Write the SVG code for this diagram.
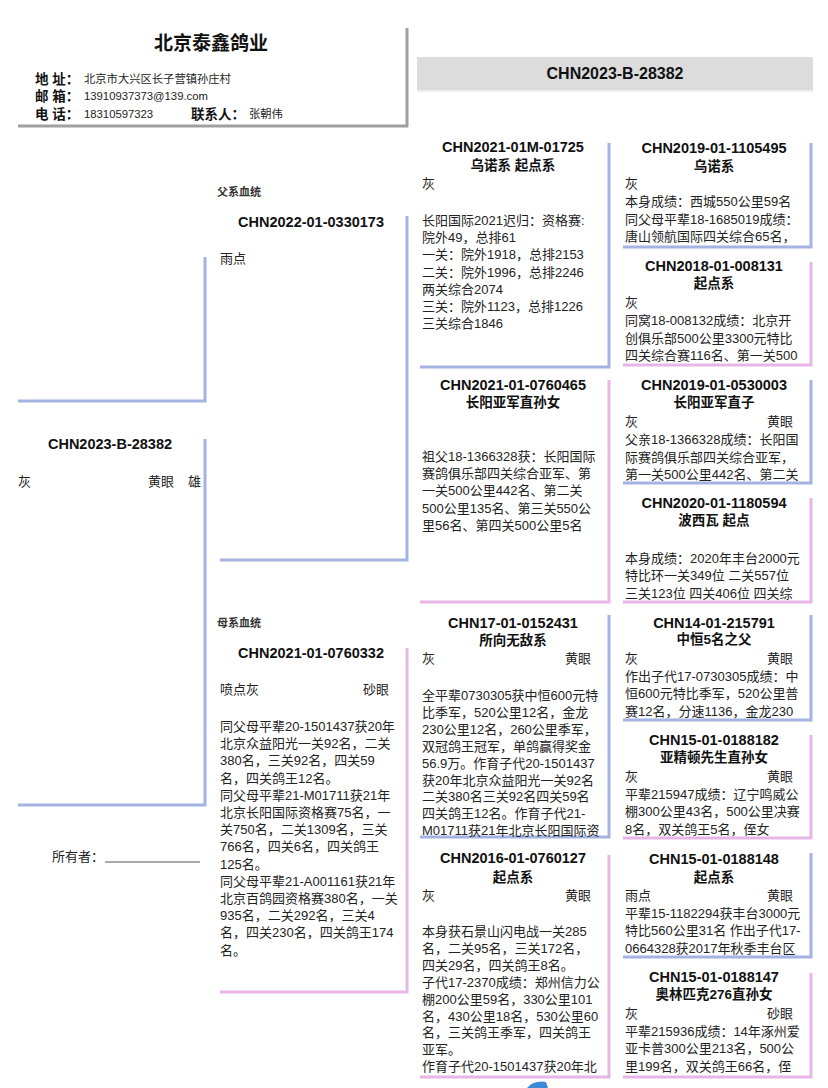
<svg xmlns="http://www.w3.org/2000/svg" width="828" height="1088" viewBox="0 0 828 1088">
<style>
text{font-family:'Liberation Sans','Noto Sans CJK SC',sans-serif;fill:#222}
.b{stroke:#a4b3e2;stroke-width:3;fill:none}
.p{stroke:#e8b6e6;stroke-width:3;fill:none}
.g{stroke:#a0a0a0;stroke-width:3;fill:none}
.h{font-weight:bold;font-size:14.5px;text-anchor:middle;fill:#111}
.s{font-weight:bold;font-size:13.5px;text-anchor:middle;fill:#111}
.t{font-size:13px}
.lb{font-weight:bold;font-size:13.5px;fill:#111}
.v{font-size:11.3px}
.sm{font-size:11px;font-weight:bold;fill:#333}
</style>
<rect x="0" y="0" width="828" height="1088" fill="#fff"/>

<g id="header">
  <path class="g" d="M407 28 V127 M18 126 H408"/>
  <text x="211" y="50" style="font-weight:bold;font-size:19px;text-anchor:middle;fill:#111">北京泰鑫鸽业</text>
  <text class="lb" x="35" y="84">地 址：</text>
  <text class="v" x="84" y="83">北京市大兴区长子营镇孙庄村</text>
  <text class="lb" x="35" y="101">邮 箱：</text>
  <text class="v" x="84" y="100">13910937373@139.com</text>
  <text class="lb" x="35" y="119">电 话：</text>
  <text class="v" x="84" y="118">18310597323</text>
  <text class="lb" x="191" y="119">联系人：</text>
  <text class="v" x="249" y="118">张朝伟</text>
</g>

<g id="banner">
  <rect x="417" y="57" width="396" height="33" fill="#dcdcdc"/>
  <line x1="417" y1="91" x2="813" y2="91" stroke="#eeeeee" stroke-width="2"/>
  <text x="615" y="79" style="font-weight:bold;font-size:16px;text-anchor:middle;fill:#111">CHN2023-B-28382</text>
</g>

<g id="connectors">
  <path class="b" d="M205 257 V401 H18"/>
</g>

<g id="subject">
  <path class="b" d="M205 439 V805 H18"/>
  <text class="h" x="110" y="449">CHN2023-B-28382</text>
  <text class="t" x="18" y="486">灰</text>
  <text class="t" x="148" y="486">黄眼</text>
  <text class="t" x="188" y="486">雄</text>
</g>

<g id="owner">
  <text class="t" x="52" y="861">所有者：</text>
  <line x1="105" y1="862" x2="200" y2="862" stroke="#555" stroke-width="1"/>
</g>

<g id="sire">
  <text class="sm" x="217" y="196">父系血统</text>
  <path class="b" d="M407 216 V560 H220"/>
  <text class="h" x="311" y="227">CHN2022-01-0330173</text>
  <text class="t" x="220" y="263">雨点</text>
</g>

<g id="dam">
  <text class="sm" x="217" y="627">母系血统</text>
  <path class="p" d="M407 648 V992 H220"/>
  <text class="h" x="311" y="658">CHN2021-01-0760332</text>
  <text class="t" x="220" y="694">喷点灰</text>
  <text class="t" x="363" y="694">砂眼</text>
  <text class="t" x="220" y="731">
    <tspan x="220">同父母平辈20-1501437获20年</tspan>
    <tspan x="220" dy="17.2">北京众益阳光一关92名，二关</tspan>
    <tspan x="220" dy="17.2">380名，三关92名，四关59</tspan>
    <tspan x="220" dy="17.2">名，四关鸽王12名。</tspan>
    <tspan x="220" dy="17.2">同父母平辈21-M01711获21年</tspan>
    <tspan x="220" dy="17.2">北京长阳国际资格赛75名，一</tspan>
    <tspan x="220" dy="17.2">关750名，二关1309名，三关</tspan>
    <tspan x="220" dy="17.2">766名，四关6名，四关鸽王</tspan>
    <tspan x="220" dy="17.2">125名。</tspan>
    <tspan x="220" dy="17.2">同父母平辈21-A001161获21年</tspan>
    <tspan x="220" dy="17.2">北京百鸽园资格赛380名，一关</tspan>
    <tspan x="220" dy="17.2">935名，二关292名，三关4</tspan>
    <tspan x="220" dy="17.2">名，四关230名，四关鸽王174</tspan>
    <tspan x="220" dy="17.2">名。</tspan>
  </text>
</g>

<g id="ss">
  <path class="b" d="M609 143 V367 H420"/>
  <text class="h" x="513" y="152">CHN2021-01M-01725</text>
  <text class="s" x="513" y="170">乌诺系 起点系</text>
  <text class="t" x="422" y="188">灰</text>
  <text class="t" x="422" y="225">
    <tspan x="422">长阳国际2021迟归：资格赛:</tspan>
    <tspan x="422" dy="17.2">院外49，总排61</tspan>
    <tspan x="422" dy="17.2">一关：院外1918，总排2153</tspan>
    <tspan x="422" dy="17.2">二关：院外1996，总排2246</tspan>
    <tspan x="422" dy="17.2">两关综合2074</tspan>
    <tspan x="422" dy="17.2">三关：院外1123，总排1226</tspan>
    <tspan x="422" dy="17.2">三关综合1846</tspan>
  </text>
</g>

<g id="sd">
  <path class="p" d="M609 380 V602 H420"/>
  <text class="h" x="513" y="390">CHN2021-01-0760465</text>
  <text class="s" x="513" y="407">长阳亚军直孙女</text>
  <text class="t" x="422" y="461">
    <tspan x="422">祖父18-1366328获：长阳国际</tspan>
    <tspan x="422" dy="17.2">赛鸽俱乐部四关综合亚军、第</tspan>
    <tspan x="422" dy="17.2">一关500公里442名、第二关</tspan>
    <tspan x="422" dy="17.2">500公里135名、第三关550公</tspan>
    <tspan x="422" dy="17.2">里56名、第四关500公里5名</tspan>
  </text>
</g>

<g id="ds">
  <path class="b" d="M609 615 V837 H420"/>
  <text class="h" x="513" y="628">CHN17-01-0152431</text>
  <text class="s" x="513" y="645">所向无敌系</text>
  <text class="t" x="422" y="663">灰</text>
  <text class="t" x="565" y="663">黄眼</text>
  <text class="t" x="422" y="700">
    <tspan x="422">全平辈0730305获中恒600元特</tspan>
    <tspan x="422" dy="16.9">比季军，520公里12名，金龙</tspan>
    <tspan x="422" dy="16.9">230公里12名，260公里季军，</tspan>
    <tspan x="422" dy="16.9">双冠鸽王冠军，单鸽赢得奖金</tspan>
    <tspan x="422" dy="16.9">56.9万。作育子代20-1501437</tspan>
    <tspan x="422" dy="16.9">获20年北京众益阳光一关92名</tspan>
    <tspan x="422" dy="16.9">二关380名三关92名四关59名</tspan>
    <tspan x="422" dy="16.9">四关鸽王12名。作育子代21-</tspan>
    <tspan x="422" dy="16.9">M01711获21年北京长阳国际资</tspan>
  </text>
</g>

<g id="dd">
  <path class="p" d="M609 855 V1077 H420"/>
  <text class="h" x="513" y="863">CHN2016-01-0760127</text>
  <text class="s" x="513" y="882">起点系</text>
  <text class="t" x="422" y="900">灰</text>
  <text class="t" x="565" y="900">黄眼</text>
  <text class="t" x="422" y="936">
    <tspan x="422">本身获石景山闪电战一关285</tspan>
    <tspan x="422" dy="16.9">名，二关95名，三关172名，</tspan>
    <tspan x="422" dy="16.9">四关29名，四关鸽王8名。</tspan>
    <tspan x="422" dy="16.9">子代17-2370成绩：郑州信力公</tspan>
    <tspan x="422" dy="16.9">棚200公里59名，330公里101</tspan>
    <tspan x="422" dy="16.9">名，430公里18名，530公里60</tspan>
    <tspan x="422" dy="16.9">名，三关鸽王季军，四关鸽王</tspan>
    <tspan x="422" dy="16.9">亚军。</tspan>
    <tspan x="422" dy="16.9">作育子代20-1501437获20年北</tspan>
  </text>
  <path d="M527 1088 Q534 1080 546 1082 L548 1088 Z" fill="#3a8ad8"/>
</g>

<g id="sss">
  <path class="b" d="M811 143 V247 H623"/>
  <text class="h" x="714" y="153">CHN2019-01-1105495</text>
  <text class="s" x="714" y="171">乌诺系</text>
  <text class="t" x="625" y="188">灰</text>
  <text class="t" x="625" y="206">
    <tspan x="625">本身成绩：西城550公里59名</tspan>
    <tspan x="625" dy="17.6">同父母平辈18-1685019成绩：</tspan>
    <tspan x="625" dy="17.6">唐山领航国际四关综合65名，</tspan>
  </text>
</g>

<g id="ssd">
  <path class="p" d="M811 262 V365 H623"/>
  <text class="h" x="714" y="271">CHN2018-01-008131</text>
  <text class="s" x="714" y="288">起点系</text>
  <text class="t" x="625" y="307">灰</text>
  <text class="t" x="625" y="325">
    <tspan x="625">同窝18-008132成绩：北京开</tspan>
    <tspan x="625" dy="17.6">创俱乐部500公里3300元特比</tspan>
    <tspan x="625" dy="17.6">四关综合赛116名、第一关500</tspan>
  </text>
</g>

<g id="sds">
  <path class="b" d="M811 380 V483 H623"/>
  <text class="h" x="714" y="390">CHN2019-01-0530003</text>
  <text class="s" x="714" y="407">长阳亚军直子</text>
  <text class="t" x="625" y="426">灰</text>
  <text class="t" x="767" y="426">黄眼</text>
  <text class="t" x="625" y="444">
    <tspan x="625">父亲18-1366328成绩：长阳国</tspan>
    <tspan x="625" dy="17.6">际赛鸽俱乐部四关综合亚军，</tspan>
    <tspan x="625" dy="17.6">第一关500公里442名、第二关</tspan>
  </text>
</g>

<g id="sdd">
  <path class="p" d="M811 498 V602 H623"/>
  <text class="h" x="714" y="508">CHN2020-01-1180594</text>
  <text class="s" x="714" y="525">波西瓦 起点</text>
  <text class="t" x="625" y="563">
    <tspan x="625">本身成绩：2020年丰台2000元</tspan>
    <tspan x="625" dy="17.4">特比环一关349位 二关557位</tspan>
    <tspan x="625" dy="17.4">三关123位 四关406位 四关综</tspan>
  </text>
</g>

<g id="dss">
  <path class="b" d="M811 615 V720 H623"/>
  <text class="h" x="714" y="628">CHN14-01-215791</text>
  <text class="s" x="714" y="644">中恒5名之父</text>
  <text class="t" x="625" y="663">灰</text>
  <text class="t" x="767" y="663">黄眼</text>
  <text class="t" x="625" y="681">
    <tspan x="625">作出子代17-0730305成绩：中</tspan>
    <tspan x="625" dy="17.4">恒600元特比季军，520公里普</tspan>
    <tspan x="625" dy="17.4">赛12名，分速1136，金龙230</tspan>
  </text>
</g>

<g id="dsd">
  <path class="p" d="M811 735 V838 H623"/>
  <text class="h" x="714" y="745">CHN15-01-0188182</text>
  <text class="s" x="714" y="762">亚精顿先生直孙女</text>
  <text class="t" x="625" y="781">灰</text>
  <text class="t" x="767" y="781">黄眼</text>
  <text class="t" x="625" y="799">
    <tspan x="625">平辈215947成绩：辽宁鸣威公</tspan>
    <tspan x="625" dy="17.4">棚300公里43名，500公里决赛</tspan>
    <tspan x="625" dy="17.4">8名，双关鸽王5名，侄女</tspan>
  </text>
</g>

<g id="dds">
  <path class="b" d="M811 853 V957 H623"/>
  <text class="h" x="714" y="864">CHN15-01-0188148</text>
  <text class="s" x="714" y="882">起点系</text>
  <text class="t" x="625" y="900">雨点</text>
  <text class="t" x="767" y="900">黄眼</text>
  <text class="t" x="625" y="918">
    <tspan x="625">平辈15-1182294获丰台3000元</tspan>
    <tspan x="625" dy="17.4">特比560公里31名 作出子代17-</tspan>
    <tspan x="625" dy="17.4">0664328获2017年秋季丰台区</tspan>
  </text>
</g>

<g id="ddd">
  <path class="p" d="M811 973 V1077 H623"/>
  <text class="h" x="714" y="982">CHN15-01-0188147</text>
  <text class="s" x="714" y="999">奥林匹克276直孙女</text>
  <text class="t" x="625" y="1018">灰</text>
  <text class="t" x="767" y="1018">砂眼</text>
  <text class="t" x="625" y="1036">
    <tspan x="625">平辈215936成绩：14年涿州爱</tspan>
    <tspan x="625" dy="17.4">亚卡普300公里213名，500公</tspan>
    <tspan x="625" dy="17.4">里199名，双关鸽王66名，侄</tspan>
  </text>
</g>
</svg>
